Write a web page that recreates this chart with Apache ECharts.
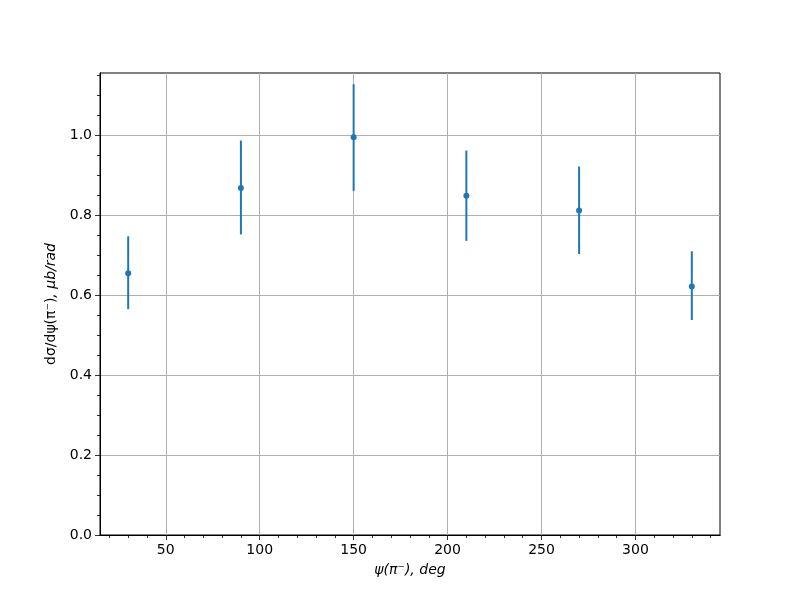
<!DOCTYPE html>
<html>
<head>
<meta charset="utf-8">
<script src="https://cdn.jsdelivr.net/npm/echarts@6/dist/echarts.min.js"></script>
<style>html,body{margin:0;padding:0;background:#fff}#c{width:800px;height:600px}</style>
</head>
<body>
<div id="c"></div>
<script>
// Data
const psi = [30, 90, 150, 210, 270, 330];
const dsig = [0.655, 0.868, 0.995, 0.849, 0.812, 0.622];
const errLow = [0.565, 0.752, 0.861, 0.736, 0.703, 0.538];
const errHigh = [0.7475, 0.987, 1.128, 0.962, 0.922, 0.710];
const xMajorTicks = [50, 100, 150, 200, 250, 300];
const xMinorTicks = [20, 30, 40, 60, 70, 80, 90, 110, 120, 130, 140, 160, 170, 180, 190, 210, 220, 230, 240, 260, 270, 280, 290, 310, 320, 330, 340];
const yMajorTicks = [0, 0.2, 0.4, 0.6, 0.8, 1.0];
const yMinorTicks = [0.05, 0.1, 0.15, 0.25, 0.3, 0.35, 0.45, 0.5, 0.55, 0.65, 0.7, 0.75, 0.85, 0.9, 0.95, 1.05, 1.1, 1.15];

const FONT = 'DejaVu Sans';
const chart = echarts.init(document.getElementById('c'));
const pts = psi.map((x, i) => [x, dsig[i]]);
const errs = psi.map((x, i) => [x, errLow[i], errHigh[i]]);

chart.setOption({
  animation: false,
  backgroundColor: '#fff',
  grid: { left: 100, top: 73, width: 620, height: 462, show: true, borderColor: '#000', borderWidth: 1, backgroundColor: 'transparent' },
  xAxis: [
    {
      type: 'value', min: 15, max: 345, position: 'bottom',
      axisLine: { show: true, lineStyle: { color: '#000', width: 1 } },
      axisTick: { show: true, customValues: xMinorTicks, length: 3, lineStyle: { color: '#000', width: 0.8 } },
      axisLabel: { show: false },
      splitLine: { show: false }
    },
    {
      type: 'value', min: 15, max: 345, position: 'bottom',
      name: '{i|ψ(π⁻), deg}', nameLocation: 'middle', nameGap: 28,
      nameTextStyle: { rich: { i: { fontFamily: FONT, fontSize: 14, fontStyle: 'italic', color: '#000' } } },
      axisLine: { show: true, lineStyle: { color: '#000', width: 1 } },
      axisTick: { show: true, customValues: xMajorTicks, length: 5, lineStyle: { color: '#000', width: 0.8 } },
      axisLabel: { show: true, customValues: xMajorTicks, margin: 8, fontFamily: FONT, fontSize: 14, color: '#000' },
      splitLine: { show: true, lineStyle: { color: '#b0b0b0', width: 1 } }
    }
  ],
  yAxis: [
    {
      type: 'value', min: 0, max: 1.156, position: 'left',
      axisLine: { show: true, lineStyle: { color: '#000', width: 1 } },
      axisTick: { show: true, customValues: yMinorTicks, length: 3, lineStyle: { color: '#000', width: 0.8 } },
      axisLabel: { show: false },
      splitLine: { show: false }
    },
    {
      type: 'value', min: 0, max: 1.156, position: 'left',
      name: '{n|dσ/dψ(π⁻)}{i|, μb/rad}', nameLocation: 'middle', nameGap: 40, nameRotate: 90,
      nameTextStyle: { rich: {
        n: { fontFamily: FONT, fontSize: 14, color: '#000' },
        i: { fontFamily: FONT, fontSize: 14, fontStyle: 'italic', color: '#000' }
      } },
      axisLine: { show: true, lineStyle: { color: '#000', width: 1 } },
      axisTick: { show: true, customValues: yMajorTicks, length: 5, lineStyle: { color: '#000', width: 0.8 } },
      axisLabel: { show: true, customValues: yMajorTicks, margin: 8, fontFamily: FONT, fontSize: 14, color: '#000',
        formatter: v => v.toFixed(1) },
      splitLine: { show: true, lineStyle: { color: '#b0b0b0', width: 1 } }
    }
  ],
  series: [
    {
      type: 'custom', xAxisIndex: 1, yAxisIndex: 1, data: errs, z: 3,
      renderItem: (params, api) => {
        const x = api.value(0);
        const lo = api.coord([x, api.value(1)]);
        const hi = api.coord([x, api.value(2)]);
        return { type: 'line', shape: { x1: lo[0], y1: lo[1], x2: hi[0], y2: hi[1] },
          style: { stroke: '#1f77b4', lineWidth: 2 } };
      }
    },
    {
      type: 'scatter', xAxisIndex: 1, yAxisIndex: 1, data: pts, z: 4,
      symbol: 'circle', symbolSize: 6, itemStyle: { color: '#1f77b4', opacity: 1 }
    }
  ]
});
</script>
</body>
</html>
